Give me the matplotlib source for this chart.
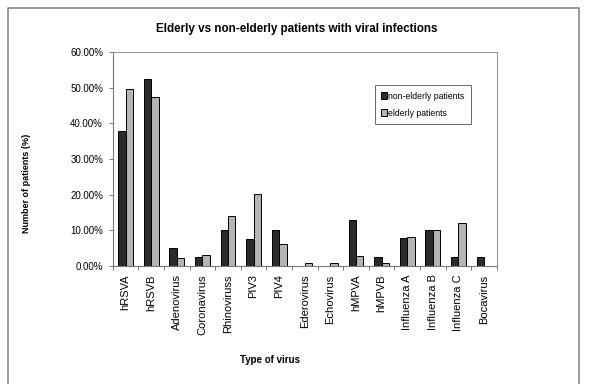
import numpy as np
import matplotlib.pyplot as plt
from matplotlib.lines import Line2D
from matplotlib.ticker import FuncFormatter

plt.rcParams['font.family'] = ['Liberation Sans', 'DejaVu Sans']

viruses = ['hRSVA', 'hRSVB', 'Adenovirus', 'Coronavirus', 'Rhinoviruss', 'PIV3', 'PIV4',
           'Ederovirus', 'Echovirus', 'hMPVA', 'hMPVB', 'Influenza A', 'Influenza B',
           'Influenza C', 'Bocavirus']
non_elderly = [37.7, 52.5, 5.0, 2.5, 10.1, 7.7, 10.1, 0.0, 0.0, 12.8, 2.5, 7.8, 10.1, 2.5, 2.5]
elderly = [49.5, 47.4, 2.2, 3.0, 14.1, 20.1, 6.1, 1.0, 1.0, 2.9, 1.0, 8.2, 10.1, 12.2, 0.0]
yticks = [0, 10, 20, 30, 40, 50, 60]

fig = plt.figure(figsize=(6, 3.84), dpi=100)
ax = fig.add_axes([0.188, 0.307, 0.64, 0.558])

x = np.arange(len(viruses))
w = 0.29
ax.bar(x - w / 2, non_elderly, w, color='#2b2b2b', edgecolor='black', linewidth=0.7,
       label='non-elderly patients')
ax.bar(x + w / 2, elderly, w, color='#b4b4b4', edgecolor='black', linewidth=0.7,
       label='elderly patients')

ax.set_xlim(-0.5, len(viruses) - 0.5)
ax.set_ylim(0, 60)
ax.set_yticks(yticks)
ax.yaxis.set_major_formatter(FuncFormatter(lambda v, p: '%.2f%%' % v))
ax.set_xticks(x)
ax.set_xticklabels(viruses, rotation=90, fontsize=8)
ax.set_xticks(np.arange(-0.5, len(viruses), 1), minor=True)
ax.tick_params(axis='x', which='major', length=0, pad=6)
ax.tick_params(axis='x', which='minor', length=3, width=0.6, color='#666666')
ax.tick_params(axis='y', labelsize=7, length=3, width=0.6, color='#666666', pad=4)

for s in ['top', 'right']:
    ax.spines[s].set_color('#999999')
    ax.spines[s].set_linewidth(0.8)
for s in ['left', 'bottom']:
    ax.spines[s].set_color('#777777')
    ax.spines[s].set_linewidth(0.8)

leg = fig.legend(loc='upper left', bbox_to_anchor=(0.617, 0.79), fontsize=6.2,
                 frameon=True, fancybox=False, edgecolor='#444444', handlelength=0.6,
                 handleheight=0.9, handletextpad=0.2, borderpad=0.8, labelspacing=0.9)
leg.get_frame().set_linewidth(0.7)

fig.text(0.495, 0.925, 'Elderly vs non-elderly patients with viral infections',
         ha='center', va='center', fontsize=8.4, fontweight='bold')
fig.text(0.045, 0.523, 'Number of patients (%)', rotation=90, ha='center', va='center',
         fontsize=6.5, fontweight='bold')
fig.text(0.45, 0.063, 'Type of virus', ha='center', va='center', fontsize=7, fontweight='bold')

# outer chart border
bx = [8 / 600, 8 / 600, 579 / 600, 579 / 600]
by = [0.0, 1 - 8 / 384, 1 - 8 / 384, 0.0]
fig.add_artist(Line2D(bx, by, transform=fig.transFigure, color='#888888', linewidth=1.2))

fig.savefig('out.png', dpi=100)
